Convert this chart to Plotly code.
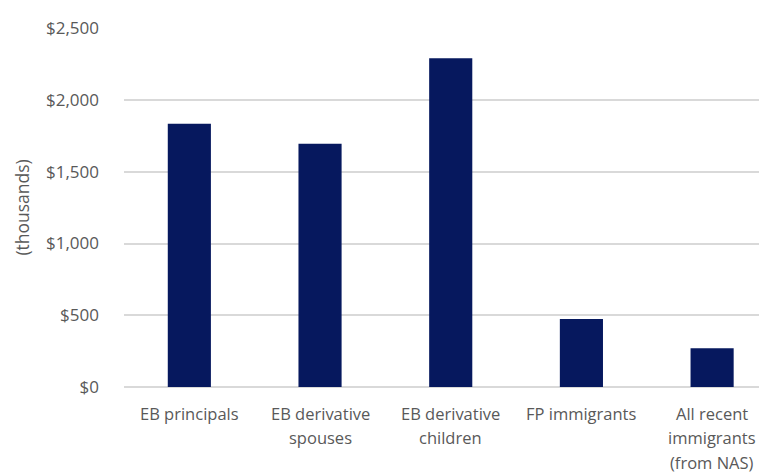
import plotly.graph_objects as go

categories = ["EB principals", "EB derivative<br>spouses", "EB derivative<br>children",
              "FP immigrants", "All recent<br>immigrants<br>(from NAS)"]
values = [1834, 1696, 2291, 474, 270]
y_ticks = [0, 500, 1000, 1500, 2000, 2500]
y_tick_labels = ["$" + f"{v:,}" for v in y_ticks]
y_title = "(thousands)"

BAR = "#06185e"
TXT = "#595959"
GRID = "#d9d9d9"
FONT = "Open Sans"

x_idx = list(range(len(categories)))

fig = go.Figure()
fig.add_trace(go.Bar(x=x_idx, y=values, marker=dict(color=BAR, line=dict(width=0)),
                     width=0.33))

annotations = []
for i, lab in enumerate(categories):
    for k, line in enumerate(lab.split("<br>")):
        annotations.append(dict(x=i, y=0, xref="x", yref="y", text=line, showarrow=False,
                                xanchor="center", yanchor="middle", yshift=-26 - 24.5 * k,
                                font=dict(family=FONT, size=16.5, color=TXT)))
annotations.append(dict(x=-0.16, y=0.5, xref="paper", yref="paper", text=y_title,
                        showarrow=False, textangle=-90, xanchor="center", yanchor="middle",
                        font=dict(family=FONT, size=17.5, color=TXT)))

fig.update_layout(
    width=767, height=475,
    margin=dict(l=116, r=8, t=12, b=96),
    paper_bgcolor="white", plot_bgcolor="white",
    showlegend=False,
    annotations=annotations,
    xaxis=dict(range=[-0.5, 4.42], showticklabels=False, showgrid=False, zeroline=False,
               showline=False, fixedrange=True),
    yaxis=dict(range=[0, 2502], tickmode="array", tickvals=y_ticks, ticktext=y_tick_labels,
               showgrid=True, gridcolor=GRID, gridwidth=1.5, zeroline=True, zerolinecolor=GRID,
               zerolinewidth=1.5, showline=False, ticks="", ticklabelstandoff=24,
               tickfont=dict(family=FONT, size=17, color=TXT)),
)

fig.write_html("out.html")
